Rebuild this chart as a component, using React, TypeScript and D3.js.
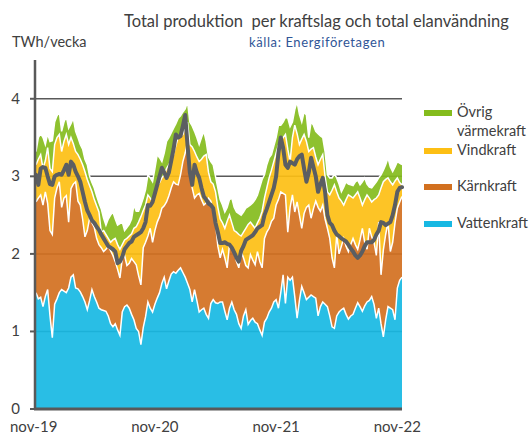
import React from "react";
import * as d3 from "d3";

// weekly values, TWh per week, from week 45 2019
const vattenkraft = [
  1.50, 1.42, 1.44, 1.32, 1.45, 1.54, 1.20, 0.92, 1.35, 1.42, 1.50, 1.54, 1.52, 1.50, 1.56, 1.70, 1.73, 1.56, 1.55, 1.51,
  1.45, 1.38, 1.28, 1.40, 1.54, 1.45, 1.38, 1.30, 1.28, 1.27, 1.26, 1.20, 1.10, 1.06, 1.10, 1.02, 0.95, 1.25, 1.32, 1.34,
  1.30, 1.22, 1.15, 1.04, 1.00, 0.83, 1.05, 1.19, 1.38, 1.30, 1.25, 1.35, 1.43, 1.50, 1.62, 1.70, 1.55, 1.65, 1.74, 1.77,
  1.75, 1.79, 1.82, 1.76, 1.70, 1.62, 1.54, 1.38, 1.54, 1.40, 1.25, 1.28, 1.30, 1.22, 1.17, 1.36, 1.41, 1.37, 1.36, 1.38,
  1.38, 1.26, 1.15, 1.30, 1.38, 1.28, 1.22, 1.10, 1.04, 1.20, 1.28, 1.09, 1.14, 1.17, 1.12, 1.10, 1.02, 0.95, 1.12, 1.17,
  1.25, 1.30, 1.38, 1.41, 1.30, 1.50, 1.73, 1.36, 1.70, 1.66, 1.70, 1.45, 1.17, 1.40, 1.58, 1.50, 1.41, 1.44, 1.47, 1.45,
  1.43, 1.20, 1.32, 1.38, 1.35, 1.32, 1.20, 1.06, 1.04, 1.20, 1.25, 1.28, 1.30, 1.22, 1.16, 1.20, 1.22, 1.30, 1.37, 1.32,
  1.26, 1.33, 1.38, 1.40, 1.45, 1.35, 1.17, 1.30, 1.10, 0.93, 1.15, 1.32, 1.30, 1.28, 1.15, 1.56, 1.66, 1.70,
];

const karnkraft = [
  1.17, 1.30, 1.32, 1.31, 1.35, 1.11, 1.10, 1.33, 1.37, 1.43, 1.43, 1.06, 1.20, 1.25, 0.85, 1.14, 1.17, 1.37, 1.13, 1.12,
  1.00, 0.84, 1.02, 1.06, 0.86, 0.89, 0.82, 0.82, 0.80, 0.76, 0.80, 0.90, 0.94, 0.92, 0.80, 0.78, 0.74, 0.69, 0.66, 0.51,
  0.58, 0.72, 0.75, 0.82, 0.72, 0.77, 1.03, 0.96, 0.85, 1.03, 0.90, 0.95, 0.98, 0.98, 0.97, 0.92, 1.12, 1.10, 1.11, 1.16,
  1.15, 1.10, 1.20, 1.43, 1.60, 1.83, 1.48, 1.47, 1.18, 1.36, 1.53, 1.42, 1.33, 1.44, 1.55, 1.32, 1.13, 1.03, 0.74, 0.57,
  0.68, 0.69, 0.67, 0.82, 0.70, 0.75, 0.68, 0.72, 0.99, 0.75, 0.57, 0.73, 0.85, 0.75, 0.74, 0.93, 0.88, 0.87, 1.08, 1.11,
  1.08, 1.12, 1.08, 1.22, 1.40, 1.30, 1.05, 1.40, 0.58, 0.94, 1.06, 1.09, 1.50, 1.10, 0.75, 1.02, 1.19, 1.19, 0.99, 1.13,
  1.25, 1.40, 1.23, 1.25, 1.10, 1.01, 1.00, 0.89, 0.78, 1.05, 0.75, 0.82, 0.90, 0.88, 0.87, 0.92, 0.98, 0.82, 0.69, 0.86,
  1.07, 0.82, 0.68, 0.93, 0.77, 0.80, 0.81, 1.11, 0.63, 1.12, 1.10, 1.09, 0.73, 0.87, 1.25, 1.03, 1.01, 1.04,
];

const vindkraft = [
  0.48, 0.50, 0.52, 0.47, 0.40, 0.72, 0.80, 0.81, 0.69, 0.65, 0.61, 0.72, 0.73, 0.79, 1.00, 0.66, 0.52, 0.39, 0.60, 0.59,
  0.70, 0.84, 0.66, 0.42, 0.40, 0.36, 0.42, 0.42, 0.20, 0.27, 0.19, 0.10, 0.11, 0.20, 0.30, 0.32, 0.37, 0.18, 0.20, 0.35,
  0.35, 0.32, 0.43, 0.49, 0.69, 0.88, 0.48, 0.48, 0.53, 0.39, 0.52, 0.48, 0.48, 0.44, 0.39, 0.40, 0.43, 0.40, 0.37, 0.35,
  0.50, 0.61, 0.50, 0.35, 0.32, 0.25, 0.39, 0.53, 0.60, 0.49, 0.41, 0.52, 0.63, 0.62, 0.33, 0.25, 0.36, 0.40, 0.50, 0.50,
  0.34, 0.38, 0.60, 0.38, 0.32, 0.27, 0.38, 0.43, 0.20, 0.33, 0.48, 0.56, 0.42, 0.45, 0.47, 0.37, 0.56, 0.73, 0.52, 0.57,
  0.65, 0.66, 0.73, 0.67, 0.70, 0.65, 0.72, 0.78, 1.07, 0.59, 0.74, 1.12, 0.88, 0.91, 1.15, 1.02, 0.85, 0.69, 0.89, 0.79,
  0.57, 0.55, 0.67, 0.65, 0.55, 0.47, 0.56, 0.87, 1.07, 0.55, 0.72, 0.58, 0.43, 0.60, 0.73, 0.62, 0.52, 0.64, 0.74, 0.54,
  0.30, 0.55, 0.70, 0.39, 0.45, 0.55, 0.74, 0.35, 1.12, 0.88, 0.71, 0.57, 0.90, 0.74, 0.54, 0.39, 0.25, 0.15,
];

const ovrigVarmekraft = [
  0.17, 0.28, 0.27, 0.40, 0.21, 0.18, 0.35, 0.40, 0.29, 0.28, 0.29, 0.26, 0.25, 0.23, 0.21, 0.18, 0.33, 0.26, 0.22, 0.19,
  0.20, 0.16, 0.19, 0.12, 0.12, 0.15, 0.13, 0.12, 0.30, 0.16, 0.12, 0.25, 0.35, 0.36, 0.25, 0.25, 0.33, 0.29, 0.12, 0.14,
  0.15, 0.19, 0.30, 0.20, 0.14, 0.15, 0.16, 0.20, 0.26, 0.26, 0.26, 0.32, 0.39, 0.32, 0.21, 0.28, 0.35, 0.35, 0.34, 0.34,
  0.28, 0.25, 0.26, 0.29, 0.25, 0.26, 0.29, 0.27, 0.26, 0.25, 0.22, 0.28, 0.32, 0.17, 0.20, 0.26, 0.25, 0.20, 0.25, 0.25,
  0.23, 0.21, 0.18, 0.20, 0.32, 0.30, 0.26, 0.27, 0.27, 0.26, 0.26, 0.23, 0.22, 0.29, 0.37, 0.36, 0.40, 0.41, 0.30, 0.30,
  0.26, 0.20, 0.20, 0.20, 0.26, 0.21, 0.20, 0.22, 0.40, 0.45, 0.20, 0.20, 0.41, 0.39, 0.22, 0.29, 0.34, 0.18, 0.35, 0.29,
  0.33, 0.40, 0.30, 0.22, 0.32, 0.22, 0.22, 0.16, 0.14, 0.18, 0.18, 0.12, 0.23, 0.23, 0.14, 0.15, 0.16, 0.17, 0.15, 0.17,
  0.30, 0.28, 0.14, 0.14, 0.18, 0.19, 0.21, 0.22, 0.17, 0.15, 0.19, 0.26, 0.19, 0.17, 0.18, 0.21, 0.25, 0.26,
];

const elanvandning = [
  3.02, 2.89, 3.10, 3.12, 3.11, 3.00, 2.90, 2.89, 3.00, 3.02, 3.03, 3.02, 3.08, 3.15, 3.02, 3.19, 3.15, 3.06, 3.00, 2.93,
  2.80, 2.67, 2.56, 2.50, 2.43, 2.40, 2.35, 2.31, 2.25, 2.20, 2.15, 2.10, 2.08, 2.06, 2.03, 1.88, 1.90, 1.96, 2.06, 2.10,
  2.14, 2.16, 2.22, 2.24, 2.26, 2.28, 2.33, 2.41, 2.63, 2.62, 2.67, 2.78, 2.89, 3.00, 3.11, 3.05, 2.98, 3.05, 3.20, 3.35,
  3.54, 3.50, 3.52, 3.65, 3.79, 3.40, 3.05, 2.89, 3.15, 3.05, 2.98, 2.85, 2.74, 2.70, 2.65, 2.63, 2.59, 2.40, 2.28, 2.14,
  2.14, 2.15, 2.13, 2.12, 2.08, 2.02, 1.95, 1.90, 2.04, 2.10, 2.18, 2.20, 2.22, 2.24, 2.28, 2.33, 2.35, 2.37, 2.50, 2.58,
  2.67, 2.76, 2.85, 3.00, 3.30, 3.50, 3.37, 3.15, 3.11, 3.19, 3.17, 3.15, 3.22, 3.26, 3.28, 3.10, 2.93, 3.05, 3.24, 3.12,
  3.00, 2.80, 2.90, 2.98, 2.80, 2.50, 2.40, 2.37, 2.30, 2.25, 2.23, 2.20, 2.18, 2.16, 2.12, 2.07, 2.03, 1.98, 1.95, 1.98,
  2.03, 2.10, 2.15, 2.15, 2.15, 2.18, 2.25, 2.30, 2.41, 2.40, 2.37, 2.39, 2.41, 2.50, 2.63, 2.80, 2.85, 2.86,
];

const seriesKeys = ["vatten", "karn", "vind", "ovrig"];
const seriesColors = ["#17b8e3", "#d2701f", "#fdbf14", "#84bc1d"];

const xTickWeeks = [-1, 51, 103, 155];
const xTickLabels = ["nov-19", "nov-20", "nov-21", "nov-22"];
const yTicks = [0, 1, 2, 3, 4];

const FONT = "Lato, 'Open Sans', sans-serif";
const TEXT = "#404040";
const AXIS = "#595959";

const App = () => {
  const width = 529;
  const height = 434;
  const margin = { top: 60, left: 35, right: 127, bottom: 25 };
  const x0 = 36;
  const x1 = width - margin.right;
  const y0 = height - margin.bottom;

  const data = vattenkraft.map((v, i) => ({
    i,
    vatten: v,
    karn: karnkraft[i],
    vind: vindkraft[i],
    ovrig: ovrigVarmekraft[i],
    use: elanvandning[i],
  }));

  const xScale = d3.scaleLinear().domain([0, data.length - 1]).range([x0, x1]);
  const yScale = d3.scaleLinear().domain([0, 4.5]).range([y0, margin.top]);

  const stacked = d3.stack().keys(seriesKeys)(data as any);

  const area = d3
    .area<any>()
    .x((d) => xScale(d.data.i))
    .y0((d) => yScale(d[0]))
    .y1((d) => yScale(d[1]));

  const topLine = d3
    .line<any>()
    .x((d) => xScale(d.data.i))
    .y((d) => yScale(d[1]));

  const useLine = d3
    .line<any>()
    .x((d) => xScale(d.i))
    .y((d) => yScale(d.use));

  const legendRows = [
    { key: 3, lines: ["Övrig", "värmekraft"], y: 117 },
    { key: 2, lines: ["Vindkraft"], y: 155 },
    { key: 1, lines: ["Kärnkraft"], y: 191 },
    { key: 0, lines: ["Vattenkraft"], y: 228 },
  ];

  return (
    <svg
      width={width}
      height={height}
      style={{ position: "absolute", left: 0, top: 0, background: "#fff" }}
      fontFamily={FONT}
    >
      <text x={124} y={27} fontSize={16.5} fill={TEXT} style={{ whiteSpace: "pre" }}>
        {"Total produktion  per kraftslag och total elanvändning"}
      </text>
      <text x={12} y={47} fontSize={14.5} fill={TEXT}>
        TWh/vecka
      </text>
      <text x={249} y={47} fontSize={13} letterSpacing={0.6} fill="#2f5597">
        källa: Energiföretagen
      </text>

      {/* gridlines behind the areas */}
      {yTicks.slice(1).map((t) => (
        <line
          key={t}
          x1={margin.left}
          x2={x1}
          y1={yScale(t)}
          y2={yScale(t)}
          stroke={AXIS}
          strokeWidth={1.5}
        />
      ))}

      {stacked.map((s, k) => (
        <path key={s.key} d={area(s) || ""} fill={seriesColors[k]} fillOpacity={0.92} />
      ))}
      {stacked.map((s) => (
        <path key={s.key} d={topLine(s) || ""} fill="none" stroke="#fff" strokeWidth={1.5} />
      ))}

      <path
        d={useLine(data) || ""}
        fill="none"
        stroke="#5b5e62"
        strokeWidth={4}
        strokeLinejoin="round"
        strokeLinecap="round"
      />

      {/* axes */}
      <line x1={margin.left} x2={margin.left} y1={margin.top} y2={y0} stroke={AXIS} strokeWidth={2.5} />
      <line x1={margin.left - 1} x2={x1} y1={y0} y2={y0} stroke={AXIS} strokeWidth={3} />
      {yTicks.map((t) => (
        <g key={t}>
          <line x1={margin.left - 5} x2={margin.left} y1={yScale(t)} y2={yScale(t)} stroke={AXIS} strokeWidth={2} />
          <text x={20} y={yScale(t) + 5} textAnchor="end" fontSize={15} fill={TEXT}>
            {t}
          </text>
        </g>
      ))}
      {xTickWeeks.map((w, k) => (
        <text key={w} x={xScale(w)} y={432} textAnchor="middle" fontSize={15} fill={TEXT}>
          {xTickLabels[k]}
        </text>
      ))}

      {/* legend */}
      {legendRows.map((r) => (
        <g key={r.key}>
          <rect x={424} y={r.y - 7} width={28} height={6} fill={seriesColors[r.key]} />
          {r.lines.map((l, j) => (
            <text key={l} x={457} y={r.y + j * 19} fontSize={14.5} fill={TEXT}>
              {l}
            </text>
          ))}
        </g>
      ))}
    </svg>
  );
};

export default App;
